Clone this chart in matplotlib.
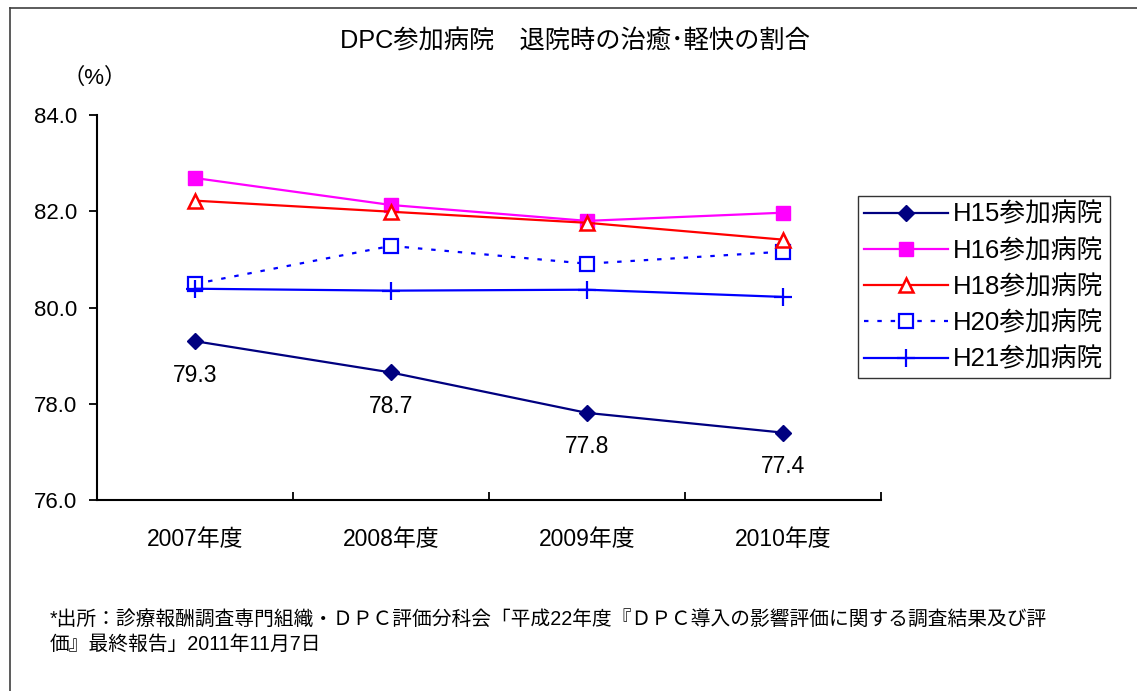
import matplotlib
matplotlib.use("Agg")
import matplotlib.pyplot as plt
from matplotlib.lines import Line2D

plt.rcParams['font.family'] = ['Liberation Sans', 'Noto Sans CJK JP', 'DejaVu Sans']

categories = ["2007年度", "2008年度", "2009年度", "2010年度"]
h15 = [79.3, 78.65, 77.81, 77.4]
h16 = [82.69, 82.13, 81.80, 81.97]
h18 = [82.22, 81.99, 81.76, 81.41]
h20 = [80.49, 81.28, 80.91, 81.16]
h21 = [80.39, 80.35, 80.37, 80.22]
h15_labels = ["79.3", "78.7", "77.8", "77.4"]
series_names = ["H15参加病院", "H16参加病院", "H18参加病院", "H20参加病院", "H21参加病院"]
yticks = [76.0, 78.0, 80.0, 82.0, 84.0]

title = "DPC参加病院　退院時の治癒･軽快の割合"
footnote = ("*出所：診療報酬調査専門組織・ＤＰＣ評価分科会「平成22年度『ＤＰＣ導入の影響評価に関する調査結果及び評\n"
            "価』最終報告」2011年11月7日")

fig = plt.figure(figsize=(11.37, 6.91), dpi=100)
ax = fig.add_axes([97/1137, 1-500/691, 784/1137, 385/691])

x = list(range(len(categories)))
lw = 1.6
ax.plot(x, h15, color='#000080', lw=lw, marker='D', ms=8.5, mfc='#000080', mec='#000080', label=series_names[0], zorder=5)
ax.plot(x, h16, color='#FF00FF', lw=lw, marker='s', ms=9.5, mfc='#FF00FF', mec='#FF00FF', label=series_names[1], zorder=4)
ax.plot(x, h18, color='#FF0000', lw=lw, marker='^', ms=10, mfc='white', mec='#FF0000', mew=1.8, label=series_names[2], zorder=4)
ax.plot(x, h20, color='#0000FF', lw=lw, ls=(0, (2, 4)), marker='s', ms=10, mfc='white', mec='#0000FF', mew=1.6, label=series_names[3], zorder=3)
ax.plot(x, h21, color='#0000FF', lw=lw, marker='+', ms=13, mew=1.6, mec='#0000FF', label=series_names[4], zorder=3)

for xi, yi, lab in zip(x, h15, h15_labels):
    ax.annotate(lab, (xi, yi), xytext=(0, -24.5), textcoords='offset points',
                ha='center', va='center', fontsize=16.5)

ax.set_xlim(-0.5, len(categories) - 0.5)
ax.set_ylim(76, 84)
ax.set_yticks(yticks)
ax.set_yticklabels([f"{v:.1f}" for v in yticks], fontsize=16)
ax.set_xticks([i - 0.5 for i in range(len(categories) + 1)], minor=False)
ax.set_xticklabels([])
ax.set_xticks(x, minor=True)
ax.set_xticklabels(categories, minor=True, fontsize=16.5)
ax.tick_params(axis='x', which='major', direction='in', length=6, width=1.3)
ax.tick_params(axis='x', which='minor', length=0, pad=20)
ax.tick_params(axis='y', direction='out', length=6, width=1.3, pad=8)
for s in ['top', 'right']:
    ax.spines[s].set_visible(False)
for s in ['left', 'bottom']:
    ax.spines[s].set_linewidth(1.5)

leg = ax.legend(loc='upper left', bbox_to_anchor=(858/1137, 1-196/691), bbox_transform=fig.transFigure,
                fontsize=18.5, frameon=True, fancybox=False, edgecolor='black',
                handlelength=3.25, handletextpad=0.2, labelspacing=0.46, borderpad=0.25, borderaxespad=0)
leg.get_frame().set_linewidth(1.0)

fig.text(575/1137, 1-42/691, title, ha='center', va='center', fontsize=18.2)
fig.text(95/1137, 1-78/691, "（%）", ha='center', va='center', fontsize=16)
fig.text(50/1137, 1-632/691, footnote, ha='left', va='center', fontsize=14.2, linespacing=1.4)

# outer frame (top and left edges visible)
fig.add_artist(Line2D([10/1137, 10/1137], [0, 1-8/691], transform=fig.transFigure, color='#404040', lw=1.2))
fig.add_artist(Line2D([10/1137, 1], [1-8/691, 1-8/691], transform=fig.transFigure, color='#404040', lw=1.2))

fig.savefig("out.png", dpi=100)
